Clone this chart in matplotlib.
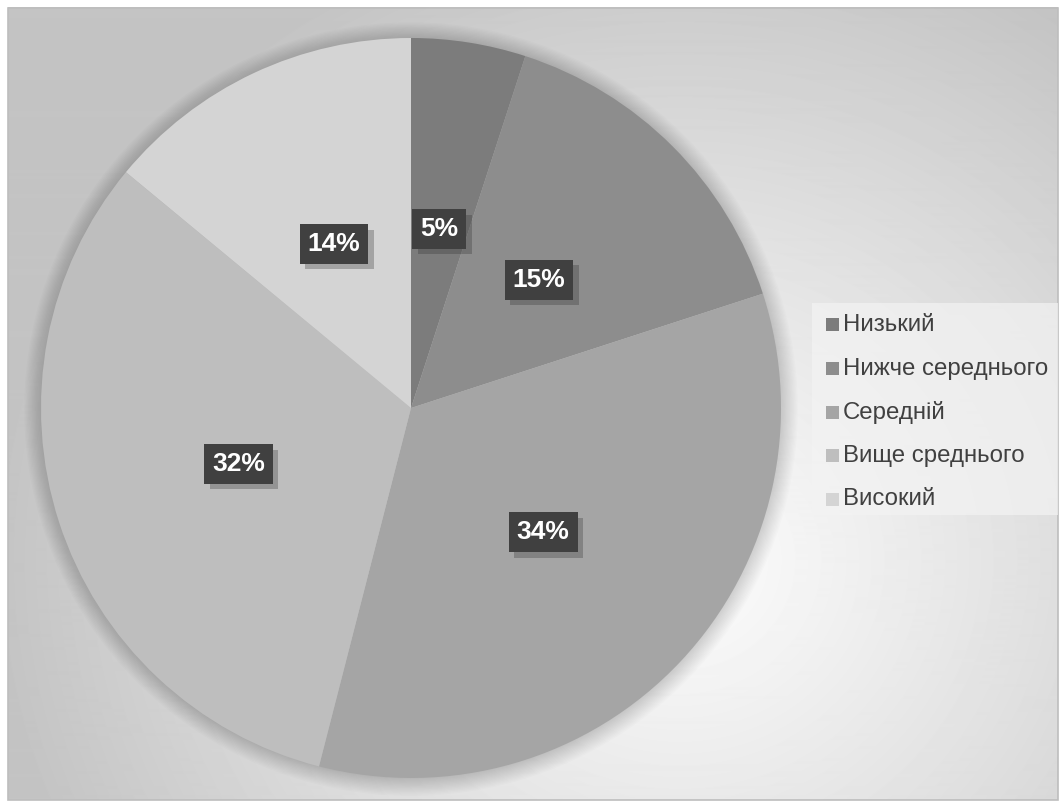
import numpy as np
import matplotlib.pyplot as plt
import matplotlib.patheffects as pe
from matplotlib.patches import Rectangle, Circle

plt.rcParams['font.family'] = ['Liberation Sans', 'DejaVu Sans']

# data
categories = ['Низький', 'Нижче середнього', 'Середній', 'Вище среднього', 'Високий']
shares = [5, 15, 34, 32, 14]
colors = ['#7c7c7c', '#8d8d8d', '#a5a5a5', '#bebebe', '#d4d4d4']

W, H = 1064, 805
fig = plt.figure(figsize=(W / 100, H / 100), dpi=100)
fig.patch.set_facecolor('white')

# background with radial gradient (pixel coords)
bg = fig.add_axes([0, 0, 1, 1])
bg.set_xlim(0, W)
bg.set_ylim(H, 0)
bg.axis('off')
x0, y0, x1, y1 = 8, 8, 1058, 800
xx, yy = np.meshgrid(np.arange(x0, x1), np.arange(y0, y1))
d = np.sqrt((xx - 680) ** 2 + ((yy - 560) / 0.95) ** 2) / 680
d = np.clip(d, 0, 1) ** 1.1
img = 252 - (252 - 196) * d
bg.imshow(img, cmap='gray', vmin=0, vmax=255, extent=[x0, x1, y1, y0], interpolation='bilinear')
bg.add_patch(Rectangle((x0, y0), x1 - x0, y1 - y0, fill=False, ec='#bdbdbd', lw=1.2))

# pie
cx, cy, r = 411, 408, 370
ax = fig.add_axes([(cx - r) / W, (H - cy - r) / H, 2 * r / W, 2 * r / H])

wedges, texts, autotexts = ax.pie(shares, colors=colors, startangle=90, counterclock=False,
                                  autopct='%1.0f%%', pctdistance=0.49, radius=1,
                                  wedgeprops=dict(linewidth=0))
ax.set_xlim(-1, 1)
ax.set_ylim(-1, 1)
ax.axis('off')

# soft shadow under the pie
for k in range(14):
    ax.add_patch(Circle((0.0, -0.003), 1.0 + 0.0035 * k, color='black', alpha=0.012, lw=0,
                        zorder=0, clip_on=False))

for w in wedges:
    w.set_zorder(2)
for t in autotexts:
    t.set_color('white')
    t.set_fontsize(19)
    t.set_fontweight('bold')
    t.set_zorder(5)
    t.set_bbox(dict(boxstyle='square,pad=0.3', fc='#404040', ec='none'))
    t.get_bbox_patch().set_path_effects([
        pe.SimplePatchShadow(offset=(4, -4), shadow_rgbFace='#333333', alpha=0.3), pe.Normal()])

# legend
leg_ax = fig.add_axes([0, 0, 1, 1], facecolor='none')
leg_ax.set_xlim(0, W)
leg_ax.set_ylim(H, 0)
leg_ax.axis('off')
leg_ax.add_patch(Rectangle((812, 303), 246, 212, fc='#f3f3f3', ec='none', alpha=0.7))
for i, (c, lab) in enumerate(zip(colors, categories)):
    yy_ = 325 + i * 43.5
    leg_ax.add_patch(Rectangle((826, yy_ - 6.5), 13, 13, fc=c, ec='none'))
    leg_ax.text(843, yy_, lab, fontsize=17.3, color='#404040', va='center', ha='left')

fig.savefig('out.png', dpi=100)
